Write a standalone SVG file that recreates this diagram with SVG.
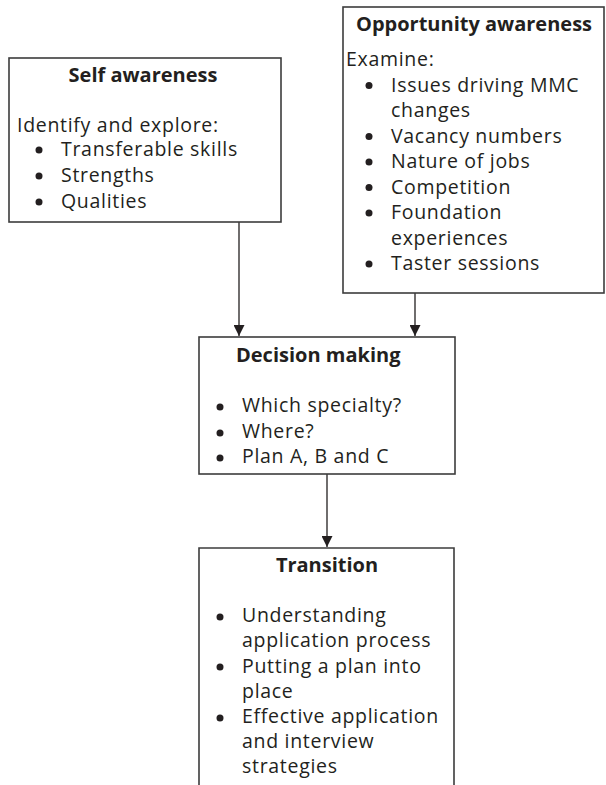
<svg xmlns="http://www.w3.org/2000/svg" width="606" height="785" viewBox="0 0 606 785">
  <style>
    .box { fill: #ffffff; stroke: #3c3c3c; stroke-width: 1.6; }
    .title { font-family: "Open Sans", "Noto Sans", "DejaVu Sans", sans-serif; font-size: 20px; font-weight: bold; fill: #231f20; }
    .body { font-family: "Open Sans", "Noto Sans", "DejaVu Sans", sans-serif; font-size: 19.5px; letter-spacing: 0.7px; fill: #231f20; }
    .dot { fill: #231f20; }
    .link { stroke: #231f20; stroke-width: 1.3; fill: none; }
  </style>
  <defs>
    <marker id="arrow" viewBox="0 0 10 10" refX="10" refY="5" markerWidth="11" markerHeight="11" markerUnits="userSpaceOnUse" orient="auto">
      <path d="M0,0 L10,5 L0,10 Z" fill="#231f20"/>
    </marker>
  </defs>
  <rect width="606" height="785" fill="#ffffff"/>

  <!-- connectors -->
  <g id="connectors">
    <line class="link" x1="239" y1="222" x2="239" y2="336" marker-end="url(#arrow)"/>
    <line class="link" x1="415" y1="293" x2="415" y2="336" marker-end="url(#arrow)"/>
    <line class="link" x1="327" y1="474" x2="327" y2="547" marker-end="url(#arrow)"/>
  </g>

  <!-- Self awareness -->
  <g id="self-awareness">
    <rect class="box" x="9" y="58" width="272" height="164"/>
    <text class="title" x="143" y="82" text-anchor="middle">Self awareness</text>
    <text class="body" x="17" y="132">Identify and explore:</text>
    <circle class="dot" cx="39" cy="150" r="3.5"/>
    <text class="body" x="61" y="156">Transferable skills</text>
    <circle class="dot" cx="39" cy="176" r="3.5"/>
    <text class="body" x="61" y="182">Strengths</text>
    <circle class="dot" cx="39" cy="202" r="3.5"/>
    <text class="body" x="61" y="208">Qualities</text>
  </g>

  <!-- Opportunity awareness -->
  <g id="opportunity-awareness">
    <rect class="box" x="343" y="7" width="261" height="286"/>
    <text class="title" x="474" y="31" text-anchor="middle">Opportunity awareness</text>
    <text class="body" x="346" y="66">Examine:</text>
    <circle class="dot" cx="369" cy="85.5" r="3.5"/>
    <text class="body" x="391" y="91.5">Issues driving MMC</text>
    <text class="body" x="391" y="117">changes</text>
    <circle class="dot" cx="369" cy="136.5" r="3.5"/>
    <text class="body" x="391" y="142.5">Vacancy numbers</text>
    <circle class="dot" cx="369" cy="162" r="3.5"/>
    <text class="body" x="391" y="168">Nature of jobs</text>
    <circle class="dot" cx="369" cy="187.5" r="3.5"/>
    <text class="body" x="391" y="193.5">Competition</text>
    <circle class="dot" cx="369" cy="213" r="3.5"/>
    <text class="body" x="391" y="219">Foundation</text>
    <text class="body" x="391" y="244.5">experiences</text>
    <circle class="dot" cx="369" cy="264" r="3.5"/>
    <text class="body" x="391" y="270">Taster sessions</text>
  </g>

  <!-- Decision making -->
  <g id="decision-making">
    <rect class="box" x="199" y="337" width="256" height="137"/>
    <text class="title" x="236" y="362">Decision making</text>
    <circle class="dot" cx="220" cy="407" r="3.5"/>
    <text class="body" x="242" y="412">Which specialty?</text>
    <circle class="dot" cx="220" cy="433" r="3.5"/>
    <text class="body" x="242" y="438">Where?</text>
    <circle class="dot" cx="220" cy="458" r="3.5"/>
    <text class="body" x="242" y="463">Plan A, B and C</text>
  </g>

  <!-- Transition (box runs off the bottom edge) -->
  <g id="transition">
    <path class="box" d="M199,787 L199,548 L454,548 L454,787"/>
    <text class="title" x="327" y="572" text-anchor="middle">Transition</text>
    <circle class="dot" cx="220" cy="617" r="3.5"/>
    <text class="body" x="242" y="622">Understanding</text>
    <text class="body" x="242" y="647">application process</text>
    <circle class="dot" cx="220" cy="667" r="3.5"/>
    <text class="body" x="242" y="673">Putting a plan into</text>
    <text class="body" x="242" y="698">place</text>
    <circle class="dot" cx="220" cy="718" r="3.5"/>
    <text class="body" x="242" y="723">Effective application</text>
    <text class="body" x="242" y="748">and interview</text>
    <text class="body" x="242" y="773">strategies</text>
  </g>
</svg>
